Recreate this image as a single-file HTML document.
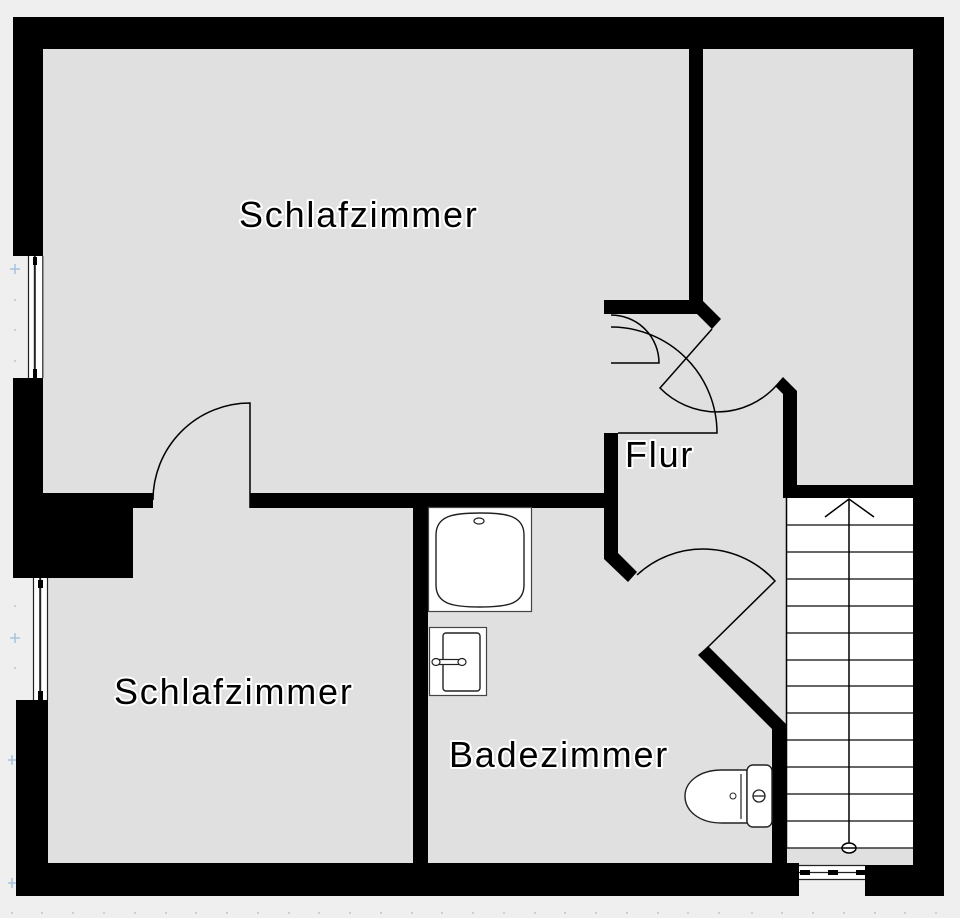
<!DOCTYPE html>
<html>
<head>
<meta charset="utf-8">
<style>
  html, body { margin: 0; padding: 0; background: #efefef; }
  svg { display: block; }
  .lbl { font-family: "Liberation Sans", Arial, sans-serif; font-size: 36px; letter-spacing: 1.8px; fill: #000; stroke: #fff; stroke-width: 4px; paint-order: stroke; stroke-linejoin: round; }
</style>
</head>
<body>
<svg width="960" height="918" viewBox="0 0 960 918" xmlns="http://www.w3.org/2000/svg">
  <rect x="0" y="0" width="960" height="918" fill="#efefef"/>

  <!-- grid dots -->
  <g fill="#c4c4c4">
    <circle cx="15" cy="146" r="1"/><circle cx="15" cy="300" r="1"/><circle cx="15" cy="330" r="1"/><circle cx="15" cy="361" r="1"/>
    <circle cx="15" cy="606" r="1"/><circle cx="15" cy="668" r="1"/>
    <circle cx="12" cy="913" r="1"/><circle cx="42" cy="913" r="1"/><circle cx="73" cy="913" r="1"/><circle cx="104" cy="913" r="1"/>
    <circle cx="135" cy="913" r="1"/><circle cx="166" cy="913" r="1"/><circle cx="196" cy="913" r="1"/><circle cx="227" cy="913" r="1"/>
    <circle cx="258" cy="913" r="1"/><circle cx="289" cy="913" r="1"/><circle cx="319" cy="913" r="1"/><circle cx="350" cy="913" r="1"/>
    <circle cx="381" cy="913" r="1"/><circle cx="412" cy="913" r="1"/><circle cx="442" cy="913" r="1"/><circle cx="473" cy="913" r="1"/>
    <circle cx="504" cy="913" r="1"/><circle cx="535" cy="913" r="1"/><circle cx="565" cy="913" r="1"/><circle cx="596" cy="913" r="1"/>
    <circle cx="627" cy="913" r="1"/><circle cx="658" cy="913" r="1"/><circle cx="688" cy="913" r="1"/><circle cx="719" cy="913" r="1"/>
    <circle cx="752" cy="913" r="1"/><circle cx="782" cy="913" r="1"/><circle cx="813" cy="913" r="1"/><circle cx="844" cy="913" r="1"/>
    <circle cx="875" cy="913" r="1"/><circle cx="905" cy="913" r="1"/><circle cx="936" cy="913" r="1"/>
  </g>
  <g stroke="#a9c3de" stroke-width="1.5">
    <path d="M10 269 h10 M15 264 v10"/>
    <path d="M10 638 h10 M15 633 v10"/>
    <path d="M8 760 h8 M12 755 v10"/>
    <path d="M8 883 h8 M12 878 v10"/>
  </g>

  <!-- interior -->
  <rect x="43" y="49" width="870" height="816" fill="#e0e0e0"/>

  <!-- stairs -->
  <rect x="786" y="498" width="127" height="350" fill="#ffffff"/>
  <g stroke="#333" stroke-width="1.5" fill="none">
    <line x1="786" y1="525" x2="913" y2="525"/>
    <line x1="786" y1="552" x2="913" y2="552"/>
    <line x1="786" y1="579" x2="913" y2="579"/>
    <line x1="786" y1="606" x2="913" y2="606"/>
    <line x1="786" y1="633" x2="913" y2="633"/>
    <line x1="786" y1="660" x2="913" y2="660"/>
    <line x1="786" y1="686" x2="913" y2="686"/>
    <line x1="786" y1="713" x2="913" y2="713"/>
    <line x1="786" y1="740" x2="913" y2="740"/>
    <line x1="786" y1="767" x2="913" y2="767"/>
    <line x1="786" y1="794" x2="913" y2="794"/>
    <line x1="786" y1="821" x2="913" y2="821"/>
    <line x1="786" y1="848" x2="913" y2="848"/>
  </g>
  <g stroke="#000" stroke-width="1.5" fill="none">
    <line x1="786.5" y1="498" x2="786.5" y2="848"/>
    <line x1="849" y1="499" x2="849" y2="843"/>
    <polyline points="825,517 849,499 874,517"/>
    <ellipse cx="849" cy="848" rx="7" ry="5" fill="#fff"/>
    <line x1="842" y1="848" x2="856" y2="848"/>
  </g>

  <!-- walls -->
  <g fill="#000">
    <rect x="13" y="17" width="931" height="32"/>
    <rect x="913" y="17" width="31" height="879"/>
    <rect x="13" y="17" width="30" height="239"/>
    <rect x="13" y="378" width="30" height="115"/>
    <rect x="13" y="493" width="120" height="85"/>
    <rect x="43" y="493" width="110" height="15"/>
    <rect x="16" y="700" width="32" height="196"/>
    <rect x="16" y="863" width="783" height="33"/>
    <rect x="865" y="865" width="79" height="31"/>
    <rect x="250" y="493" width="368" height="15"/>
    <rect x="413" y="493" width="15" height="372"/>
    <polygon points="604,433 618,433 618,553 637,572 628,582 604,559"/>
    <polygon points="604,300 689,300 689,49 703,49 703,301 721,319 712,329 697,314 604,314"/>
    <polygon points="775,386 783,377 797,391 797,498 783,498 783,394"/>
    <rect x="783" y="485" width="130" height="13"/>
    <polygon points="698,655 708,646 787,725 787,865 772,865 772,729"/>
  </g>

  <!-- left windows -->
  <rect x="28" y="256" width="15" height="122" fill="#fff"/>
  <g stroke="#222" fill="none">
    <line x1="28.5" y1="256" x2="28.5" y2="378" stroke-width="1.2"/>
    <line x1="34.8" y1="256" x2="34.8" y2="378" stroke-width="2"/>
    <line x1="42.8" y1="256" x2="42.8" y2="378" stroke-width="1.2"/>
  </g>
  <rect x="33" y="257" width="4" height="8" fill="#000"/>
  <rect x="33" y="369" width="4" height="9" fill="#000"/>

  <rect x="33" y="578" width="15" height="122" fill="#fff"/>
  <g stroke="#222" fill="none">
    <line x1="33.5" y1="578" x2="33.5" y2="700" stroke-width="1.2"/>
    <line x1="40.2" y1="578" x2="40.2" y2="700" stroke-width="2"/>
    <line x1="47.5" y1="578" x2="47.5" y2="700" stroke-width="1.2"/>
  </g>
  <rect x="38" y="580" width="5" height="8" fill="#000"/>
  <rect x="38" y="691" width="5" height="9" fill="#000"/>

  <!-- bottom window -->
  <rect x="799" y="865" width="66" height="15" fill="#fff"/>
  <g stroke="#222" stroke-width="1.2">
    <line x1="799" y1="865.5" x2="865" y2="865.5"/>
    <line x1="799" y1="872.5" x2="865" y2="872.5"/>
    <line x1="799" y1="879.5" x2="865" y2="879.5"/>
  </g>
  <g fill="#000">
    <rect x="800" y="870" width="10" height="5"/>
    <rect x="828" y="870" width="10" height="5"/>
    <rect x="856" y="870" width="9" height="5"/>
  </g>

  <!-- doors -->
  <g stroke="#000" stroke-width="1.5" fill="none">
    <path d="M250 508 L250 403 A97 97 0 0 0 153 500"/>
    <path d="M611 315 A48 48 0 0 1 659 363 L611 363"/>
    <path d="M611 327 A106 106 0 0 1 717 433 L618 433"/>
    <path d="M712 329 L660 388 A80 80 0 0 0 776 386"/>
    <path d="M637 575 A97 97 0 0 1 775 581 L708 647"/>
  </g>

  <!-- bathtub -->
  <rect x="428.5" y="507.5" width="103" height="104" fill="#fff" stroke="#444" stroke-width="1.2"/>
  <path d="M436 535 C436 515 455 513 480 513 C505 513 524 515 524 535 L524 585 C524 605 505 607 480 607 C455 607 436 605 436 585 Z" fill="#fff" stroke="#222" stroke-width="1.4"/>
  <ellipse cx="479" cy="521" rx="5" ry="3" fill="#fff" stroke="#222" stroke-width="1.2"/>

  <!-- sink -->
  <rect x="429.5" y="627.5" width="57" height="68" fill="#fff" stroke="#444" stroke-width="1.2"/>
  <rect x="443" y="633" width="37" height="58" rx="3" fill="#fff" stroke="#222" stroke-width="1.4"/>
  <rect x="439" y="659.5" width="20" height="5" fill="#fff" stroke="#222" stroke-width="1.2"/>
  <ellipse cx="436" cy="662" rx="4" ry="3.5" fill="#fff" stroke="#222" stroke-width="1.2"/>
  <ellipse cx="462" cy="662" rx="4" ry="3.5" fill="#fff" stroke="#222" stroke-width="1.2"/>

  <!-- toilet -->
  <path d="M747 770 L722 770 C698 770 685 783 685 796 C685 810 698 823 722 823 L747 823 Z" fill="#fff" stroke="#222" stroke-width="1.4"/>
  <path d="M741 774 L741 819" stroke="#222" stroke-width="1.2"/>
  <circle cx="733" cy="796" r="3" fill="#fff" stroke="#222" stroke-width="1"/>
  <rect x="747" y="765" width="25" height="62" rx="6" fill="#fff" stroke="#222" stroke-width="1.4"/>
  <circle cx="759" cy="796" r="6" fill="#fff" stroke="#222" stroke-width="1.3"/>
  <line x1="753" y1="796" x2="765" y2="796" stroke="#222" stroke-width="1.3"/>

  <!-- labels -->
  <text class="lbl" x="239" y="227">Schlafzimmer</text>
  <text class="lbl" x="114" y="704">Schlafzimmer</text>
  <text class="lbl" x="449" y="767">Badezimmer</text>
  <text class="lbl" x="625" y="467">Flur</text>
</svg>
</body>
</html>
